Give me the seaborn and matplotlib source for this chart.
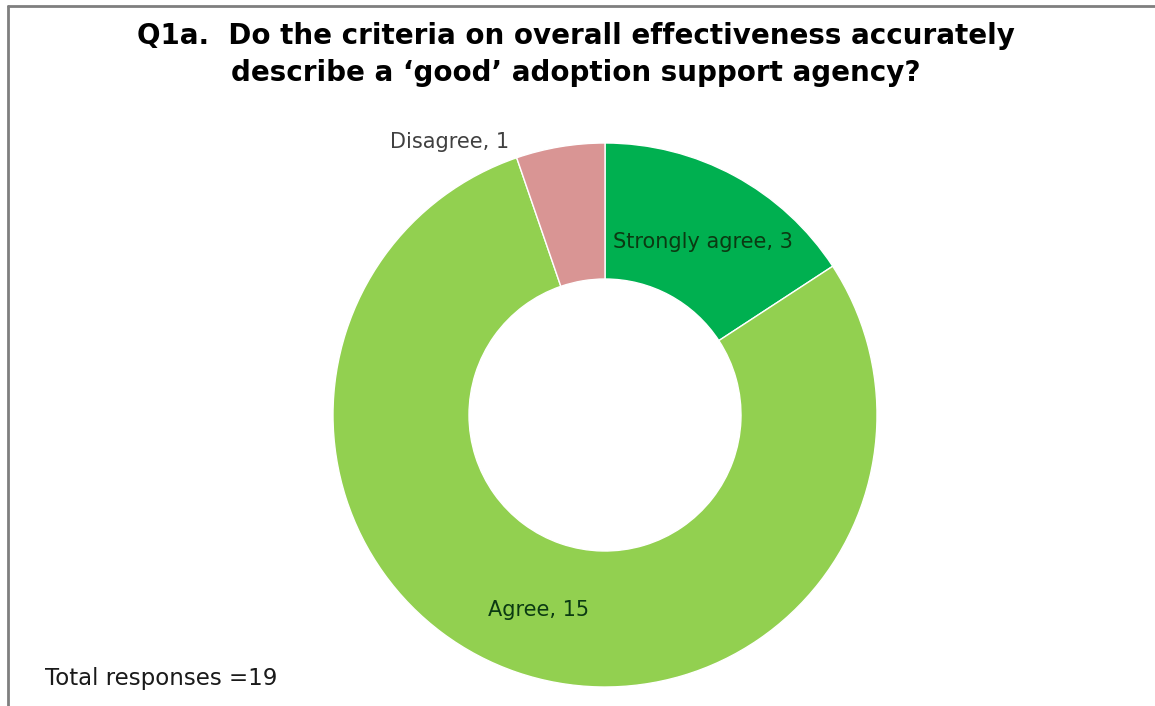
import matplotlib
matplotlib.use("Agg")
import matplotlib.pyplot as plt
from matplotlib.lines import Line2D
import seaborn as sns

sns.set_theme(style="white")
plt.rcParams["font.family"] = ["DejaVu Sans"]

# Survey responses
categories = ["Strongly agree", "Agree", "Disagree"]
counts = [3, 15, 1]
colors = ["#00B050", "#92D050", "#D99594"]
label_colors = ["#0B3A12", "#0B3A12", "#404040"]
title_lines = [
    "Q1a.  Do the criteria on overall effectiveness accurately",
    "describe a \u2018good\u2019 adoption support agency?",
]
total_text = "Total responses =19"

W, H = 1155, 706
fig = plt.figure(figsize=(W / 100, H / 100), dpi=100)
fig.patch.set_facecolor("white")

# Donut placement (pixels)
cx, cy, r = 605, 415, 272
ax = fig.add_axes([(cx - r) / W, (H - cy - r) / H, 2 * r / W, 2 * r / H])

wedges, _ = ax.pie(
    counts,
    colors=colors,
    startangle=90,
    counterclock=False,
    radius=1.0,
    wedgeprops=dict(width=0.5, edgecolor="white", linewidth=1),
)
ax.set_xlim(-1, 1)
ax.set_ylim(-1, 1)
ax.set_aspect("equal")
ax.axis("off")

# Data labels
label_pos = [(0.36, 0.636), (-0.243, -0.717), (-0.57, 1.005)]
for cat, val, (lx, ly), col in zip(categories, counts, label_pos, label_colors):
    ax.text(lx, ly, f"{cat}, {val}", ha="center", va="center",
            fontsize=15, color=col, clip_on=False)

# Title
fig.text(576 / W, 1 - 36 / H, title_lines[0], ha="center", va="center",
         fontsize=20, fontweight="bold", color="black")
fig.text(576 / W, 1 - 73 / H, title_lines[1], ha="center", va="center",
         fontsize=20, fontweight="bold", color="black")

fig.text(45 / W, 1 - 678 / H, total_text, ha="left", va="center",
         fontsize=16.5, color="#1a1a1a")

# Frame lines along the top and left edges
fig.add_artist(Line2D([8 / W, 1], [1 - 6 / H, 1 - 6 / H], color="#7f7f7f", lw=2,
                      transform=fig.transFigure))
fig.add_artist(Line2D([8 / W, 8 / W], [0, 1 - 6 / H], color="#7f7f7f", lw=2,
                      transform=fig.transFigure))

fig.savefig("out.png", dpi=100, facecolor="white")
